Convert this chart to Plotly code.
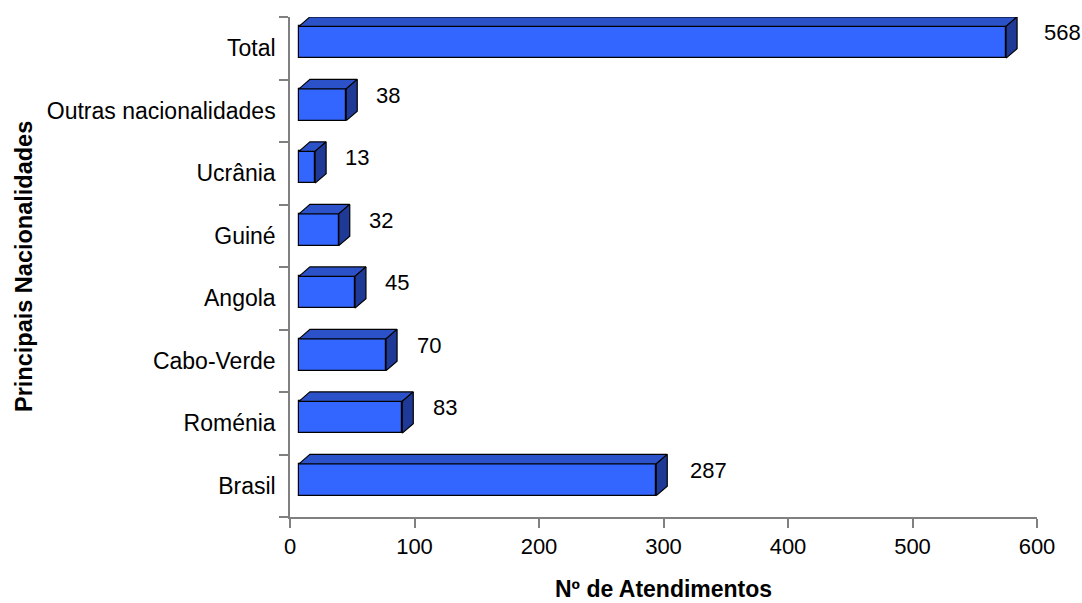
import plotly.graph_objects as go

categories = ["Brasil", "Roménia", "Cabo-Verde", "Angola", "Guiné", "Ucrânia", "Outras nacionalidades", "Total"]
values = [287, 83, 70, 45, 32, 13, 38, 568]
x_ticks = [0, 100, 200, 300, 400, 500, 600]

# 3D styling constants (in data units)
OFF = 7.2      # front face start offset
DX = 8.8       # depth offset along x
DY = 0.152     # depth offset along y
CSH = 0.096    # front face shift up from band centre
HW = 0.254     # front face half height
LBL_A, LBL_B = 29.4, 1.0116  # label placement (perspective-like)
PX_PER_UNIT = 747 / 600

FRONT = "#3366FF"
TOP = "#2C52C9"
SIDE = "#1F3A96"
FONT = "Arial, Liberation Sans, sans-serif"

ypos = list(range(len(categories)))
centers = [i + CSH for i in ypos]

fig = go.Figure()

# front faces
fig.add_trace(go.Bar(
    y=centers, x=values, base=[OFF] * len(values), orientation="h",
    width=2 * HW, marker=dict(color=FRONT, line=dict(color="black", width=1.2)),
    hoverinfo="skip", showlegend=False,
))

# top and side faces
tx, ty = [], []
sx, sy = [], []
for v, c in zip(values, centers):
    x0, x1 = OFF, OFF + v
    y0, y1 = c - HW, c + HW
    tx += [x0, x1, x1 + DX, x0 + DX, x0, None]
    ty += [y1, y1, y1 + DY, y1 + DY, y1, None]
    sx += [x1, x1 + DX, x1 + DX, x1, x1, None]
    sy += [y0, y0 + DY, y1 + DY, y1, y0, None]

fig.add_trace(go.Scatter(x=tx, y=ty, fill="toself", fillcolor=TOP, mode="lines",
                         line=dict(color="black", width=1.2), hoverinfo="skip",
                         showlegend=False, cliponaxis=False))
fig.add_trace(go.Scatter(x=sx, y=sy, fill="toself", fillcolor=SIDE, mode="lines",
                         line=dict(color="black", width=1.2), hoverinfo="skip",
                         showlegend=False, cliponaxis=False))

# value labels: anchored at the box's back-right edge, shifted right
value_annotations = []
for v, c in zip(values, centers):
    anchor = OFF + v + DX
    shift = (LBL_A + LBL_B * v - anchor) * PX_PER_UNIT
    value_annotations.append(dict(
        text=str(v), x=anchor, y=c + DY, xref="x", yref="y", xshift=shift,
        xanchor="left", yanchor="middle", showarrow=False,
        font=dict(family=FONT, size=22, color="black")))

fig.update_layout(
    width=1082, height=603,
    margin=dict(l=290, r=45, t=17, b=86),
    paper_bgcolor="white", plot_bgcolor="white",
    font=dict(family=FONT, size=22, color="black"),
    bargap=0, barmode="overlay",
    xaxis=dict(range=[0, 600], tickvals=x_ticks, ticktext=[str(t) for t in x_ticks],
               ticks="outside", ticklen=9, tickcolor="#808080", tickwidth=1.5,
               showline=True, linecolor="#808080", linewidth=1.5,
               showgrid=False, zeroline=False, fixedrange=True,
               tickfont=dict(family=FONT, size=22)),
    yaxis=dict(range=[-0.5, 7.5], tickvals=ypos, ticktext=categories,
               ticks="", showline=True, linecolor="#808080", linewidth=1.5,
               showgrid=False, zeroline=False, fixedrange=True,
               ticklabelstandoff=8,
               minor=dict(tickvals=[i - 0.5 for i in range(len(categories) + 1)],
                          ticks="outside", ticklen=9, tickcolor="#808080", tickwidth=1.5),
               tickfont=dict(family=FONT, size=23)),
    annotations=value_annotations + [
        dict(text="<b>Nº de Atendimentos</b>", xref="paper", yref="paper",
             x=0.5, y=-0.144, xanchor="center", yanchor="middle", showarrow=False,
             font=dict(family=FONT, size=23)),
        dict(text="<b>Principais Nacionalidades</b>", xref="paper", yref="paper",
             x=(24 - 290) / 747, y=0.5, xanchor="center", yanchor="middle",
             textangle=-90, showarrow=False, font=dict(family=FONT, size=23.5)),
    ],
)

fig.write_html("out.html")
